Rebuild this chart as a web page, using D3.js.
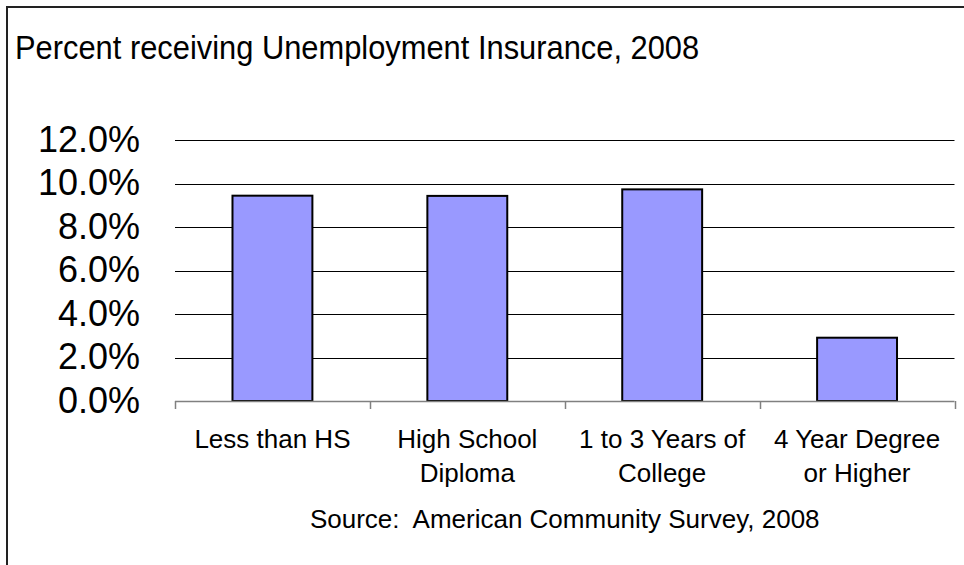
<!DOCTYPE html>
<html>
<head>
<meta charset="utf-8">
<script src="https://cdn.jsdelivr.net/npm/d3@7"></script>
<style>
  html, body { margin: 0; padding: 0; background: #fff; }
  svg { display: block; }
  text { font-family: "Liberation Sans", Arial, sans-serif; fill: #000; white-space: pre; }
</style>
</head>
<body>
<svg id="chart" width="964" height="565"></svg>
<script>
const title = "Percent receiving Unemployment Insurance, 2008";
const source = "Source:  American Community Survey, 2008";
const categories = [
  ["Less than HS"],
  ["High School", "Diploma"],
  ["1 to 3 Years of", "College"],
  ["4 Year Degree", "or Higher"]
];
const values = [9.44, 9.43, 9.73, 2.91];
const yTicks = [0, 2, 4, 6, 8, 10, 12];
const yTickLabels = ["0.0%", "2.0%", "4.0%", "6.0%", "8.0%", "10.0%", "12.0%"];

const svg = d3.select("#chart");
const W = 964, H = 565;
const plot = { left: 175, right: 954.5, top: 140, bottom: 401 };

// outer frame (extends past viewport on right and bottom)
svg.append("rect")
  .attr("x", 7).attr("y", 7)
  .attr("width", W + 20).attr("height", H + 20)
  .attr("fill", "#fff").attr("stroke", "#222").attr("stroke-width", 2);

svg.append("text")
  .attr("transform", "translate(15,59) scale(0.935,1)")
  .attr("font-size", 33)
  .text(title);

const x = d3.scaleBand()
  .domain(categories.map((d, i) => i))
  .range([plot.left, plot.right])
  .paddingInner(0.59)
  .paddingOuter(0.295);

const y = d3.scaleLinear().domain([0, 12]).range([plot.bottom, plot.top]);

// gridlines
svg.append("g")
  .selectAll("line")
  .data(yTicks.filter(d => d > 0))
  .join("line")
  .attr("x1", plot.left).attr("x2", plot.right)
  .attr("y1", d => Math.round(y(d)) + 0.5)
  .attr("y2", d => Math.round(y(d)) + 0.5)
  .attr("stroke", "#000").attr("stroke-width", 1);

// y labels
svg.append("g")
  .selectAll("text")
  .data(yTicks)
  .join("text")
  .attr("x", 140)
  .attr("y", d => y(d))
  .attr("dy", "0.33em")
  .attr("text-anchor", "end")
  .attr("font-size", 36)
  .text((d, i) => yTickLabels[i]);

// bars
svg.append("g")
  .selectAll("rect")
  .data(values)
  .join("rect")
  .attr("x", (d, i) => x(i))
  .attr("y", d => y(d))
  .attr("width", x.bandwidth())
  .attr("height", d => y(0) - y(d))
  .attr("fill", "#9999FF")
  .attr("stroke", "#000")
  .attr("stroke-width", 2);

// x axis baseline and ticks
const step = x.step();
const tickXs = d3.range(categories.length + 1).map(i => plot.left + i * step);
const axis = svg.append("g");
axis.append("line")
  .attr("x1", plot.left).attr("x2", plot.right)
  .attr("y1", plot.bottom + 0.5).attr("y2", plot.bottom + 0.5)
  .attr("stroke", "#808080").attr("stroke-width", 1.5);
axis.selectAll("line.tick")
  .data(tickXs)
  .join("line")
  .attr("class", "tick")
  .attr("x1", d => Math.round(d) + 0.5).attr("x2", d => Math.round(d) + 0.5)
  .attr("y1", plot.bottom).attr("y2", plot.bottom + 8)
  .attr("stroke", "#808080").attr("stroke-width", 1.5);

// x labels
const xl = svg.append("g")
  .selectAll("text")
  .data(categories)
  .join("text")
  .attr("x", (d, i) => x(i) + x.bandwidth() / 2)
  .attr("y", 448)
  .attr("text-anchor", "middle")
  .attr("font-size", 26);
xl.selectAll("tspan")
  .data(d => d)
  .join("tspan")
  .attr("x", function() { return d3.select(this.parentNode).attr("x"); })
  .attr("dy", (d, i) => i === 0 ? 0 : 33.5)
  .text(d => d);

svg.append("text")
  .attr("x", (plot.left + plot.right) / 2)
  .attr("y", 528)
  .attr("text-anchor", "middle")
  .attr("font-size", 26)
  .text(source);
</script>
</body>
</html>
